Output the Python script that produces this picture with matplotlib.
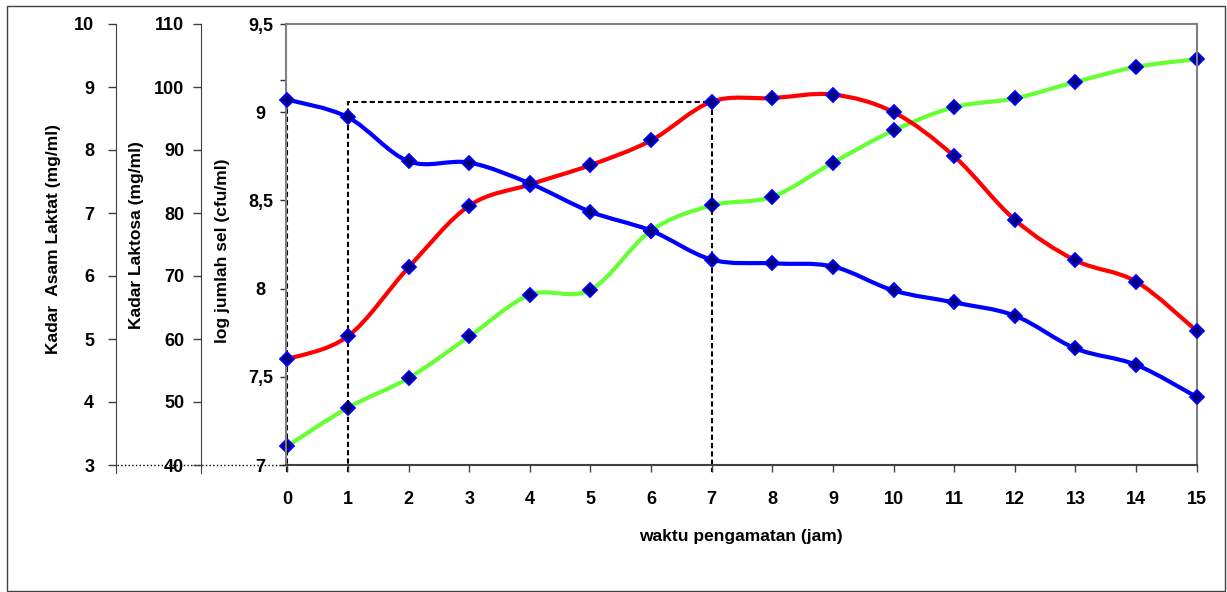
"""
Growth curve: log cell count, lactose and lactic acid over fermentation time.
"""
import matplotlib.pyplot as plt
import numpy as np
from matplotlib.patches import PathPatch, Rectangle
from matplotlib.path import Path

plt.rcParams["font.family"] = ["Liberation Sans", "DejaVu Sans"]
plt.rcParams["font.weight"] = "bold"

waktu = list(range(16))

log_sel = [7.60, 7.73, 8.12, 8.47, 8.59, 8.70, 8.84, 9.06,
           9.08, 9.10, 9.00, 8.75, 8.39, 8.16, 8.04, 7.76]
laktosa = [98.0, 95.2, 88.2, 88.0, 84.7, 80.2, 77.2, 72.6,
           72.0, 71.5, 67.7, 65.8, 63.7, 58.5, 55.9, 50.8]
asam_laktat = [3.30, 3.91, 4.38, 5.04, 5.70, 5.78, 6.72, 7.12,
               7.26, 7.80, 8.31, 8.68, 8.82, 9.08, 9.32, 9.44]

log_ticks = [7, 7.5, 8, 8.5, 9, 9.5]
log_tick_labels = ["7", "7,5", "8", "8,5", "9", "9,5"]
laktosa_ticks = [40, 50, 60, 70, 80, 90, 100, 110]
asam_ticks = [3, 4, 5, 6, 7, 8, 9, 10]

W, H = 1227, 592
AX_L, AX_R, AX_T, AX_B = 285.5, 1196.7, 24, 465


def smooth_path(x, y):
    # Catmull-Rom segments as cubic Bezier curves through every point
    pts = np.column_stack([x, y]).astype(float)
    n = len(pts)
    verts = [pts[0]]
    codes = [Path.MOVETO]
    for i in range(n - 1):
        p0 = pts[max(i - 1, 0)]
        p1 = pts[i]
        p2 = pts[i + 1]
        p3 = pts[min(i + 2, n - 1)]
        verts += [p1 + (p2 - p0) / 6, p2 - (p3 - p1) / 6, p2]
        codes += [Path.CURVE4] * 3
    return Path(verts, codes)


def draw_series(ax, y, color):
    ax.add_patch(PathPatch(smooth_path(waktu, y), fill=False, edgecolor=color,
                           lw=3.0, capstyle="round", joinstyle="round", zorder=3))
    ax.plot(waktu, y, ls="none", marker="D", ms=6.8, mfc="#000080",
            mec="#0000FF", mew=1.3, zorder=4, clip_on=False)


fig = plt.figure(figsize=(W / 100, H / 100), dpi=100)
fig.patch.set_facecolor("white")
fig.add_artist(Rectangle((6.5 / W, 1.5 / H), 1218 / W, 585 / H,
                         transform=fig.transFigure, fill=False,
                         edgecolor="#404040", lw=1.0))

rect = [AX_L / W, (H - AX_B) / H, (AX_R - AX_L) / W, (AX_B - AX_T) / H]
ax_asam = fig.add_axes(rect, zorder=1)
ax = fig.add_axes(rect, zorder=2, sharex=ax_asam)
ax_lak = fig.add_axes(rect, zorder=3, sharex=ax_asam)
for a in (ax, ax_lak):
    a.patch.set_visible(False)

ax.set_xlim(-0.03, 15)
ax.set_ylim(7, 9.5)
ax_lak.set_ylim(40, 110)
ax_asam.set_ylim(3, 10)

# dashed guide lines marking the lag and log phase
top = log_sel[7]
dash = dict(ls=(0, (2.5, 1.5)), color="black", lw=1.5, zorder=1, clip_on=False)
ax.plot([0, 0], [6.96, top], **dash)
ax.plot([1, 1, 7, 7], [6.96, top, top, 6.96], **dash)

draw_series(ax_asam, asam_laktat, "#66FF33")
draw_series(ax, log_sel, "#FF0000")
draw_series(ax_lak, laktosa, "#0000FF")

# main axes frame
for side in ("left", "top", "right"):
    ax.spines[side].set_color("#808080")
    ax.spines[side].set_linewidth(1.5)
ax.spines["bottom"].set_color("#404040")
ax.spines["bottom"].set_linewidth(1.5)

ax.set_yticks(log_ticks)
ax.set_yticklabels(log_tick_labels)
ax.set_yticks([9.18], minor=True)
ax.tick_params(axis="y", which="both", length=4, width=1, color="#303030",
               pad=14, labelsize=13)
for lbl in ax.get_yticklabels():
    lbl.set_ha("center")
ax.set_xticks(waktu)
ax.tick_params(axis="x", length=5, width=1, color="#404040", pad=14, labelsize=13)

for a in (ax_asam, ax_lak):
    for side in ("top", "right", "bottom"):
        a.spines[side].set_visible(False)
    a.tick_params(axis="x", which="both", bottom=False, labelbottom=False)
ax_asam.patch.set_visible(False)

ax_lak.spines["left"].set_position(("outward", 61))
ax_lak.spines["left"].set_color("#404040")
ax_lak.spines["left"].set_bounds(38.7, 110)
ax_lak.set_yticks(laktosa_ticks)
ax_lak.tick_params(axis="y", length=6, width=1, color="#404040", pad=6, labelsize=13)

ax_asam.spines["left"].set_position(("outward", 121.7))
ax_asam.spines["left"].set_color("#404040")
ax_asam.spines["left"].set_bounds(2.873, 10)
ax_asam.set_yticks(asam_ticks)
ax_asam.tick_params(axis="y", length=6, width=1, color="#404040", pad=10, labelsize=13)

# dotted baseline running under the two outer scales
ax.plot([(116.5 - AX_L) / (AX_R - AX_L), 0], [0, 0], transform=ax.transAxes,
        ls=":", color="black", lw=1.0, clip_on=False)

ax.set_xlabel("waktu pengamatan (jam)", fontsize=12.5, fontweight="bold")
ax.xaxis.set_label_coords(0.5, -(537 - AX_B) / (AX_B - AX_T))
ax.xaxis.label.set_va("center")

labels = [
    (ax, "log jumlah sel (cfu/ml)", 222, 251),
    (ax_lak, "Kadar Laktosa (mg/ml)", 137, 235),
    (ax_asam, "Kadar  Asam Laktat (mg/ml)", 53, 239),
]
for a, text, px, py in labels:
    a.set_ylabel(text, fontsize=12.5, fontweight="bold")
    a.yaxis.label.set_va("center")
    a.yaxis.set_label_coords((px - AX_L) / (AX_R - AX_L), (AX_B - py) / (AX_B - AX_T))

fig.savefig("out.png", dpi=100, facecolor="white")
